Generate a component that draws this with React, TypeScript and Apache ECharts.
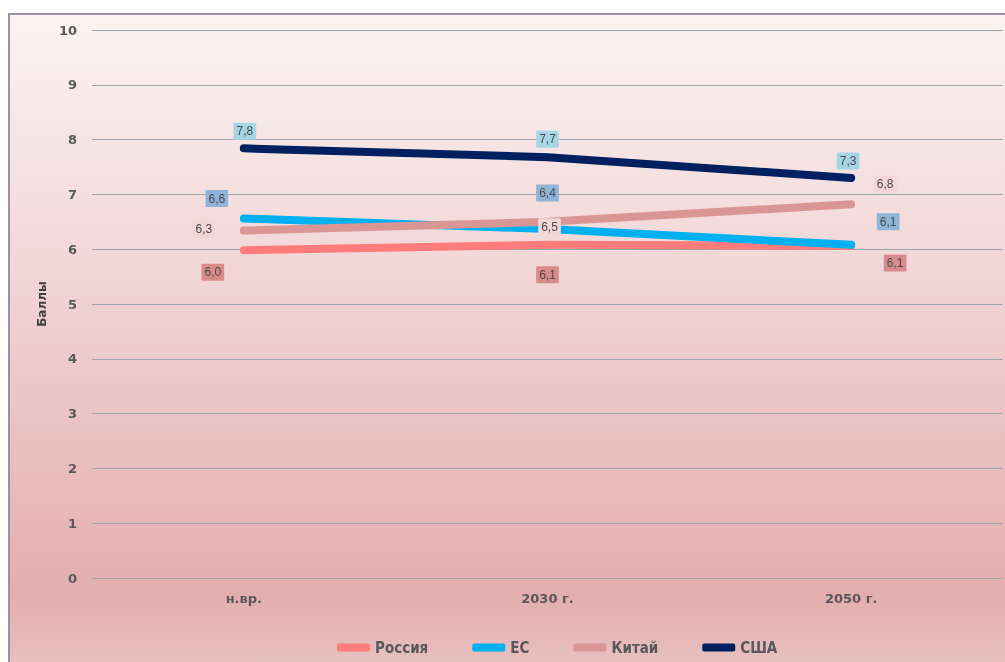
import React, { useEffect, useRef } from "react";
import * as echarts from "echarts";

const categories = ["н.вр.", "2030 г.", "2050 г."];
const russia = [5.98, 6.08, 6.06];
const eu = [6.56, 6.37, 6.08];
const china = [6.34, 6.5, 6.82];
const usa = [7.84, 7.68, 7.3];
const yTicks = [0, 1, 2, 3, 4, 5, 6, 7, 8, 9, 10];

const russiaOffsets = [[-31, 22], [0, 30], [44, 17]];
const euOffsets = [[-27, -20], [0, -36], [37, -23]];
const chinaOffsets = [[-40, -2], [2, 5], [34, -20]];
const usaOffsets = [[1, -17], [0, -18], [-3, -17]];

export default function App() {
  const ref = useRef<HTMLDivElement>(null);
  useEffect(() => {
    const chart = echarts.init(ref.current!, null, { renderer: "svg" });
    const fmt = (p: any) => Number(p.value).toFixed(1).replace(".", ",");
    const mk = (name: string, data: number[], color: string, boxColor: string, offsets: number[][], z: number) => ({
      name,
      type: "line",
      z,
      data: data.map((v, i) => ({
        value: v,
        label: { offset: offsets[i] },
      })),
      symbol: "circle",
      symbolSize: 0.1,
      showSymbol: true,
      lineStyle: { width: 8, color, cap: "round", join: "round" },
      itemStyle: { color },
      label: {
        show: true,
        position: "inside",
        formatter: fmt,
        fontSize: 12,
        color: "#4a4a4a",
        fontFamily: "Liberation Sans, Arial",
        backgroundColor: boxColor,
        padding: [3, 3, 2, 3],
        borderRadius: 1,
      },
    });
    chart.setOption({
      animation: false,
      graphic: [
        {
          type: "rect",
          z: -10,
          silent: true,
          shape: { x: 9, y: 14, width: 1010, height: 660 },
          style: {
            fill: new echarts.graphic.LinearGradient(0, 0, 0, 1, [
              { offset: 0, color: "#fbf3f2" },
              { offset: 0.35, color: "#f3d9d9" },
              { offset: 0.88, color: "#e3adaf" },
              { offset: 1, color: "#e8c2c2" },
            ]),
            stroke: "#9c90a6",
            lineWidth: 2,
          },
        },
      ],
      grid: { left: 92, right: 2, top: 30, bottom: 84 },
      legend: {
        bottom: 2,
        left: 332,
        itemWidth: 33,
        itemHeight: 8,
        itemGap: 44,
        icon: "roundRect",
        textStyle: {
          fontSize: 15,
          fontWeight: "bold",
          color: "#595959",
          fontFamily: "Liberation Sans Narrow, DejaVu Sans Condensed, Roboto",
        },
        data: ["Россия", "ЕС", "Китай", "США"],
      },
      xAxis: {
        type: "category",
        data: categories,
        axisLine: { show: false },
        axisTick: { show: false },
        axisLabel: {
          margin: 14,
          fontSize: 13,
          fontWeight: "bold",
          color: "#595959",
          fontFamily: "DejaVu Sans, Liberation Sans",
        },
      },
      yAxis: {
        type: "value",
        min: yTicks[0],
        max: yTicks[yTicks.length - 1],
        interval: 1,
        name: "Баллы",
        nameLocation: "middle",
        nameGap: 38,
        nameRotate: 90,
        nameTextStyle: { fontSize: 12, fontWeight: "bold", color: "#404040", fontFamily: "DejaVu Sans" },
        axisLine: { show: false },
        axisTick: { show: false },
        axisLabel: {
          margin: 15,
          fontSize: 13,
          fontWeight: "bold",
          color: "#595959",
          fontFamily: "DejaVu Sans, Liberation Sans",
        },
        splitLine: { lineStyle: { color: "#a0a4ac", width: 1 } },
      },
      series: [
        mk("Россия", russia, "#ff7c7c", "#d98a8a", russiaOffsets, 2),
        mk("ЕС", eu, "#00b0f0", "#8fb4d8", euOffsets, 3),
        mk("Китай", china, "#d99694", "#f2d6d6", chinaOffsets, 4),
        mk("США", usa, "#002060", "#a6d6e6", usaOffsets, 5),
      ],
    });
    return () => chart.dispose();
  }, []);
  return (
    <div
      ref={ref}
      style={{ position: "fixed", left: 0, top: 0, width: 1005, height: 662 }}
    />
  );
}
